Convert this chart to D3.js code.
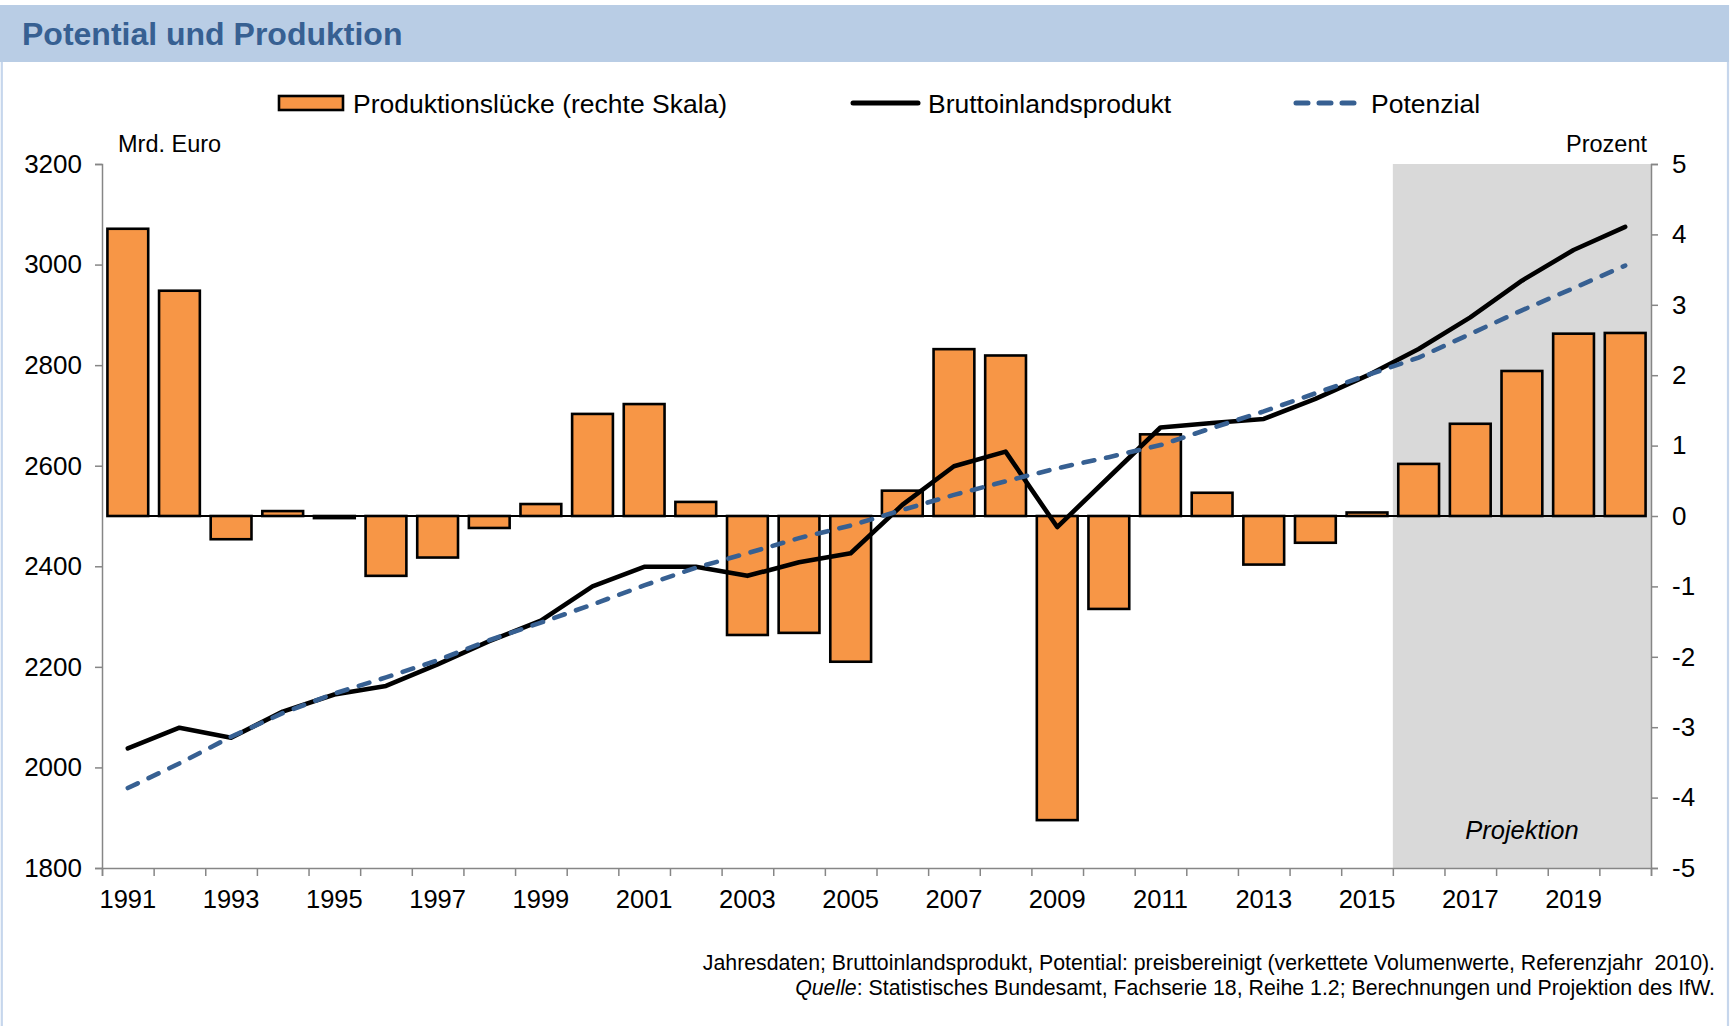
<!DOCTYPE html>
<html>
<head>
<meta charset="utf-8">
<script src="https://cdn.jsdelivr.net/npm/d3@7"></script>
<style>
  html, body { margin: 0; padding: 0; background: #ffffff; }
  svg { display: block; }
  text { font-family: "Liberation Sans", Arial, sans-serif; white-space: pre; }
</style>
</head>
<body>
<svg id="chart" width="1736" height="1026"></svg>
<script>
// ---- data ----
const years = [1991,1992,1993,1994,1995,1996,1997,1998,1999,2000,
               2001,2002,2003,2004,2005,2006,2007,2008,2009,2010,
               2011,2012,2013,2014,2015,2016,2017,2018,2019,2020];
const outputGap = [4.08, 3.20, -0.33, 0.07, -0.03, -0.85, -0.59, -0.17, 0.17, 1.45,
                   1.59, 0.20, -1.69, -1.66, -2.07, 0.36, 2.37, 2.28, -4.32, -1.32,
                   1.16, 0.33, -0.69, -0.38, 0.05, 0.74, 1.31, 2.06, 2.59, 2.60];
const gdp = [2038, 2079, 2059, 2111, 2145, 2162, 2205, 2251, 2292, 2360,
             2399, 2399, 2381, 2408, 2426, 2522, 2599, 2628, 2478, 2577,
             2676, 2685, 2693, 2733, 2779, 2832, 2895, 2968, 3029, 3075];
const potential = [1959, 2008, 2061, 2108, 2147, 2179, 2213, 2253, 2288, 2324,
                   2362, 2397, 2426, 2456, 2481, 2512, 2542, 2569, 2595, 2617,
                   2641, 2675, 2708, 2744, 2780, 2815, 2862, 2909, 2953, 2998];
const yearLabels = years.filter((y, i) => i % 2 === 0);
const leftTicks = [1800, 2000, 2200, 2400, 2600, 2800, 3000, 3200];
const rightTicks = [-5, -4, -3, -2, -1, 0, 1, 2, 3, 4, 5];
const projectionYears = [2016, 2017, 2018, 2019, 2020];

const title = "Potential und Produktion";
const legendLabels = ["Produktionslücke (rechte Skala)", "Bruttoinlandsprodukt", "Potenzial"];
const note1 = "Jahresdaten; Bruttoinlandsprodukt, Potential: preisbereinigt (verkettete Volumenwerte, Referenzjahr  2010).";
const note2a = "Quelle";
const note2b = ": Statistisches Bundesamt, Fachserie 18, Reihe 1.2; Berechnungen und Projektion des IfW.";

// ---- layout ----
const svg = d3.select("#chart");
const plot = { left: 102, right: 1651, top: 164, bottom: 868 };
const colors = { bar: "#f79646", gdp: "#000000", pot: "#376092", axis: "#868686",
                 shade: "#d9d9d9", header: "#b9cde5", titleText: "#376092", border: "#c6d6ec" };

const x = d3.scaleBand().domain(years).range([plot.left, plot.right])
  .paddingInner(0.21).paddingOuter(0.105);
const step = x.step();
const xEdge = d3.scaleLinear().domain([0, years.length]).range([plot.left, plot.right]);
const yL = d3.scaleLinear().domain([1800, 3200]).range([plot.bottom, plot.top]);
const yR = d3.scaleLinear().domain([-5, 5]).range([plot.bottom, plot.top]);
const cx = d => x(d) + x.bandwidth() / 2;

// frame
svg.append("rect").attr("x", 0).attr("y", 0).attr("width", 1736).attr("height", 1026).attr("fill", "#fff");
svg.append("line").attr("x1", 1.8).attr("x2", 1.8).attr("y1", 5).attr("y2", 1026)
  .attr("stroke", colors.border).attr("stroke-width", 2.2);
svg.append("line").attr("x1", 1728).attr("x2", 1728).attr("y1", 5).attr("y2", 1026)
  .attr("stroke", colors.border).attr("stroke-width", 2.2);
svg.append("rect").attr("x", 0).attr("y", 5).attr("width", 1729).attr("height", 57).attr("fill", colors.header);
svg.append("text").attr("x", 22).attr("y", 45).attr("font-size", 32).attr("font-weight", "bold")
  .attr("fill", colors.titleText).text(title);

// projection shading
const shadeX0 = x(projectionYears[0]) - step * x.paddingInner() / 2;
svg.append("rect").attr("x", shadeX0).attr("y", plot.top)
  .attr("width", plot.right - shadeX0).attr("height", plot.bottom - plot.top)
  .attr("fill", colors.shade);
svg.append("text").attr("x", (shadeX0 + plot.right) / 2).attr("y", 839)
  .attr("text-anchor", "middle").attr("font-size", 25.5).attr("font-style", "italic")
  .attr("fill", "#000").text("Projektion");

// bars
svg.append("g").selectAll("rect").data(years).join("rect")
  .attr("x", d => x(d))
  .attr("width", x.bandwidth())
  .attr("y", (d, i) => Math.min(yR(outputGap[i]), yR(0)))
  .attr("height", (d, i) => Math.abs(yR(outputGap[i]) - yR(0)))
  .attr("fill", colors.bar).attr("stroke", "#000").attr("stroke-width", 2.6);

// zero line
svg.append("line").attr("x1", x(years[0])).attr("x2", x(years[years.length - 1]) + x.bandwidth())
  .attr("y1", yR(0)).attr("y2", yR(0)).attr("stroke", "#000").attr("stroke-width", 2);

// lines
const lineFn = d3.line().x((d, i) => cx(years[i])).y(d => yL(d));
svg.append("path").datum(gdp).attr("d", lineFn)
  .attr("fill", "none").attr("stroke", colors.gdp).attr("stroke-width", 4.6)
  .attr("stroke-linejoin", "round").attr("stroke-linecap", "round");
svg.append("path").datum(potential).attr("d", lineFn)
  .attr("fill", "none").attr("stroke", colors.pot).attr("stroke-width", 4.6)
  .attr("stroke-dasharray", "11,12").attr("stroke-linecap", "round");

// axes
function styleAxis(g) {
  g.selectAll(".domain").attr("stroke", colors.axis).attr("stroke-width", 1.5);
  g.selectAll(".tick line").attr("stroke", colors.axis).attr("stroke-width", 1.5);
  g.selectAll("text").attr("font-family", '"Liberation Sans", Arial, sans-serif')
    .attr("font-size", 25.5).attr("fill", "#000");
}
const gL = svg.append("g").attr("transform", `translate(${plot.left},0)`)
  .call(d3.axisLeft(yL).tickValues(leftTicks).tickSize(7).tickPadding(13).tickFormat(d => String(d)));
styleAxis(gL);
gL.selectAll("text").attr("font-size", 26);
const gR = svg.append("g").attr("transform", `translate(${plot.right},0)`)
  .call(d3.axisRight(yR).tickValues(rightTicks).tickSize(7).tickPadding(14).tickFormat(d => String(d)));
styleAxis(gR);
gR.selectAll("text").attr("font-size", 26);

// x axis: edge ticks + year labels
const gX = svg.append("g").attr("transform", `translate(0,${plot.bottom})`)
  .call(d3.axisBottom(xEdge).tickValues(d3.range(years.length + 1)).tickSize(8).tickFormat(""));
styleAxis(gX);
const gXL = svg.append("g").attr("transform", `translate(0,${plot.bottom})`)
  .call(d3.axisBottom(x).tickValues(yearLabels).tickSize(0).tickPadding(22));
gXL.select(".domain").remove();
styleAxis(gXL);

// unit labels
svg.append("text").attr("x", 118).attr("y", 152).attr("font-size", 23.5).text("Mrd. Euro");
svg.append("text").attr("x", 1647).attr("y", 152).attr("font-size", 23.5)
  .attr("text-anchor", "end").text("Prozent");

// legend
const ly = 103;
svg.append("rect").attr("x", 279).attr("y", 96).attr("width", 64).attr("height", 14)
  .attr("fill", colors.bar).attr("stroke", "#000").attr("stroke-width", 2.6);
svg.append("text").attr("x", 353).attr("y", ly + 9.5).attr("font-size", 26.5).text(legendLabels[0]);
svg.append("line").attr("x1", 853).attr("x2", 918).attr("y1", ly).attr("y2", ly)
  .attr("stroke", colors.gdp).attr("stroke-width", 5).attr("stroke-linecap", "round");
svg.append("text").attr("x", 928).attr("y", ly + 9.5).attr("font-size", 26.5).text(legendLabels[1]);
svg.append("line").attr("x1", 1296).attr("x2", 1360).attr("y1", ly).attr("y2", ly)
  .attr("stroke", colors.pot).attr("stroke-width", 5).attr("stroke-linecap", "round")
  .attr("stroke-dasharray", "12,11");
svg.append("text").attr("x", 1371).attr("y", ly + 9.5).attr("font-size", 26.5).text(legendLabels[2]);

// footnote
svg.append("text").attr("x", 1715).attr("y", 970).attr("text-anchor", "end")
  .attr("font-size", 21.3).text(note1);
const n2 = svg.append("text").attr("x", 1715).attr("y", 995).attr("text-anchor", "end")
  .attr("font-size", 21.3);
n2.append("tspan").attr("font-style", "italic").text(note2a);
n2.append("tspan").text(note2b);
</script>
</body>
</html>
